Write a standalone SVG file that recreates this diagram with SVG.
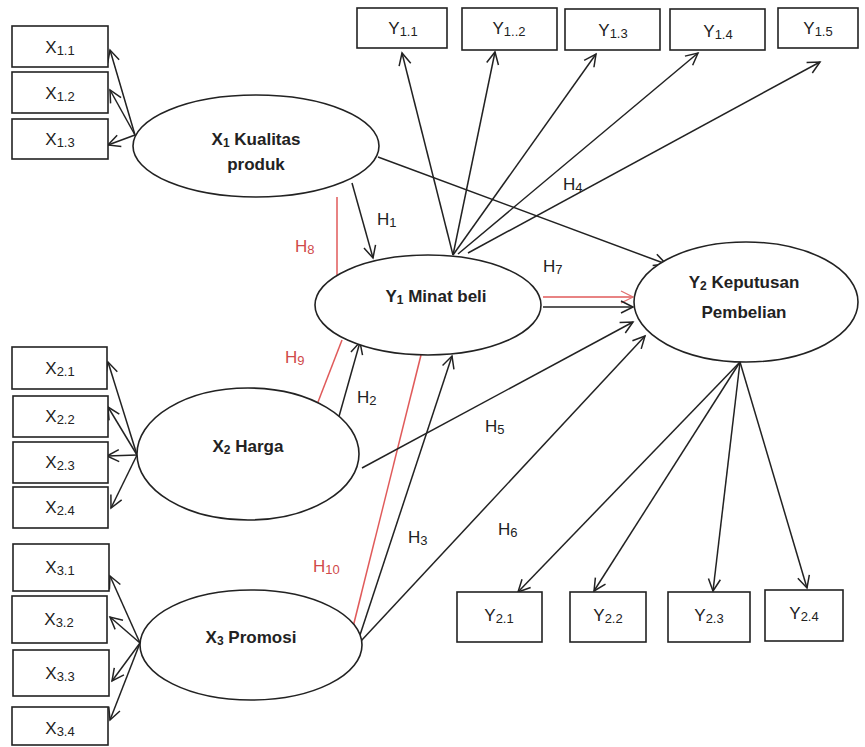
<svg xmlns="http://www.w3.org/2000/svg" width="865" height="747" viewBox="0 0 865 747">
<defs>
<marker id="ah" markerUnits="userSpaceOnUse" markerWidth="14" markerHeight="14" refX="12" refY="6" orient="auto" overflow="visible">
<path d="M0,0 L12,6 L0,12" fill="none" stroke="#222" stroke-width="1.5"/>
</marker>
<marker id="ahr" markerUnits="userSpaceOnUse" markerWidth="14" markerHeight="14" refX="12" refY="6" orient="auto" overflow="visible">
<path d="M0,0 L12,6 L0,12" fill="none" stroke="#e07070" stroke-width="1.3"/>
</marker>
<style>
.box{fill:#fff;stroke:#222;stroke-width:1.6}
.ell{fill:#fff;stroke:#222;stroke-width:1.6}
.bt{font-family:"Liberation Sans",Arial,sans-serif;font-size:17px;fill:#222;text-anchor:middle}
.et{font-family:"Liberation Sans",Arial,sans-serif;font-size:17px;font-weight:bold;fill:#222;text-anchor:middle}
.lb{font-family:"Liberation Sans",Arial,sans-serif;font-size:17px;fill:#222}
.lr{font-family:"Liberation Sans",Arial,sans-serif;font-size:17px;fill:#d04a4a}
.c line{stroke:#222;stroke-width:1.5;fill:none}
.c .a{marker-end:url(#ah)}
.c .r{stroke:#e05a5a;stroke-width:1.5}
.c .ra{stroke:#e05a5a;marker-end:url(#ahr)}
</style>
</defs>
<rect width="865" height="747" fill="#fff"/>

<g id="connectors" class="c">
<line class="a" x1="135" y1="135" x2="110" y2="50"/>
<line class="a" x1="135" y1="135" x2="110" y2="90"/>
<line class="a" x1="135" y1="135" x2="108" y2="145"/>
<line class="a" x1="137" y1="455" x2="108" y2="362"/>
<line class="a" x1="137" y1="455" x2="108" y2="407"/>
<line class="a" x1="137" y1="455" x2="107" y2="456"/>
<line class="a" x1="137" y1="455" x2="111" y2="508"/>
<line class="a" x1="140" y1="643" x2="110" y2="576"/>
<line class="a" x1="140" y1="643" x2="110" y2="617"/>
<line class="a" x1="140" y1="643" x2="112" y2="681"/>
<line class="a" x1="140" y1="643" x2="110" y2="720"/>
<line class="a" x1="453" y1="255" x2="402" y2="53"/>
<line class="a" x1="453" y1="255" x2="495" y2="52"/>
<line class="a" x1="453" y1="255" x2="596" y2="54"/>
<line class="a" x1="458" y1="254" x2="698" y2="53"/>
<line class="a" x1="468" y1="253" x2="820" y2="62"/>
<line class="a" x1="378" y1="157" x2="666" y2="264"/>
<line class="a" x1="352" y1="183" x2="373" y2="258"/>
<line class="r" x1="337" y1="197" x2="337" y2="275"/>
<line class="ra" x1="543" y1="297" x2="633" y2="297"/>
<line class="a" x1="543" y1="307" x2="633" y2="307"/>
<line class="r" x1="318" y1="402" x2="342" y2="340"/>
<line class="a" x1="338" y1="420" x2="360" y2="342"/>
<line class="r" x1="353" y1="627" x2="421" y2="355"/>
<line class="a" x1="360" y1="635" x2="452" y2="356"/>
<line class="a" x1="362" y1="468" x2="633" y2="322"/>
<line class="a" x1="361" y1="641" x2="645" y2="336"/>
<line class="a" x1="740" y1="362" x2="518" y2="592"/>
<line class="a" x1="740" y1="362" x2="594" y2="591"/>
<line class="a" x1="740" y1="362" x2="713" y2="591"/>
<line class="a" x1="740" y1="362" x2="807" y2="588"/>
</g>

<g id="labels">
<text class="lb" x="377" y="225">H<tspan font-size="13" dy="2">1</tspan></text>
<text class="lb" x="357" y="403">H<tspan font-size="13" dy="2">2</tspan></text>
<text class="lb" x="408" y="543">H<tspan font-size="13" dy="2">3</tspan></text>
<text class="lb" x="563" y="190">H<tspan font-size="13" dy="2">4</tspan></text>
<text class="lb" x="485" y="432">H<tspan font-size="13" dy="2">5</tspan></text>
<text class="lb" x="498" y="535">H<tspan font-size="13" dy="2">6</tspan></text>
<text class="lb" x="543" y="272">H<tspan font-size="13" dy="2">7</tspan></text>
<text class="lr" x="295" y="252">H<tspan font-size="13" dy="2">8</tspan></text>
<text class="lr" x="285" y="363">H<tspan font-size="13" dy="2">9</tspan></text>
<text class="lr" x="313" y="572">H<tspan font-size="13" dy="2">10</tspan></text>
</g>

<g id="X1">
<ellipse class="ell" cx="256" cy="146" rx="123" ry="51"/>
<text class="et" x="256" y="145">X<tspan font-size="12" dy="2">1</tspan><tspan dy="-2"> Kualitas</tspan></text>
<text class="et" x="256" y="170">produk</text>
</g>
<g id="Y1">
<ellipse class="ell" cx="428" cy="305" rx="113" ry="50"/>
<text class="et" x="436" y="302">Y<tspan font-size="12" dy="2">1</tspan><tspan dy="-2"> Minat beli</tspan></text>
</g>
<g id="Y2">
<ellipse class="ell" cx="746" cy="302" rx="112" ry="60"/>
<text class="et" x="744" y="288">Y<tspan font-size="12" dy="2">2</tspan><tspan dy="-2"> Keputusan</tspan></text>
<text class="et" x="744" y="318">Pembelian</text>
</g>
<g id="X2">
<ellipse class="ell" cx="248" cy="454" rx="111" ry="66"/>
<text class="et" x="248" y="452">X<tspan font-size="12" dy="2">2</tspan><tspan dy="-2"> Harga</tspan></text>
</g>
<g id="X3">
<ellipse class="ell" cx="251" cy="645" rx="111" ry="55"/>
<text class="et" x="251" y="643">X<tspan font-size="12" dy="2">3</tspan><tspan dy="-2"> Promosi</tspan></text>
</g>

<g id="X1.1"><rect class="box" x="12" y="26" width="96" height="41"/><text class="bt" x="60" y="53">X<tspan font-size="13" dy="2">1.1</tspan></text></g>
<g id="X1.2"><rect class="box" x="12" y="72" width="96" height="41"/><text class="bt" x="60" y="99">X<tspan font-size="13" dy="2">1.2</tspan></text></g>
<g id="X1.3"><rect class="box" x="12" y="119" width="96" height="40"/><text class="bt" x="60" y="145">X<tspan font-size="13" dy="2">1.3</tspan></text></g>

<g id="X2.1"><rect class="box" x="12" y="347" width="95" height="42"/><text class="bt" x="60" y="374">X<tspan font-size="13" dy="2">2.1</tspan></text></g>
<g id="X2.2"><rect class="box" x="13" y="396" width="95" height="41"/><text class="bt" x="60" y="422">X<tspan font-size="13" dy="2">2.2</tspan></text></g>
<g id="X2.3"><rect class="box" x="13" y="442" width="95" height="41"/><text class="bt" x="60" y="468">X<tspan font-size="13" dy="2">2.3</tspan></text></g>
<g id="X2.4"><rect class="box" x="13" y="487" width="95" height="41"/><text class="bt" x="60" y="513">X<tspan font-size="13" dy="2">2.4</tspan></text></g>

<g id="X3.1"><rect class="box" x="13" y="544" width="96" height="47"/><text class="bt" x="60" y="573">X<tspan font-size="13" dy="2">3.1</tspan></text></g>
<g id="X3.2"><rect class="box" x="12" y="596" width="95" height="47"/><text class="bt" x="59" y="625">X<tspan font-size="13" dy="2">3.2</tspan></text></g>
<g id="X3.3"><rect class="box" x="13" y="650" width="96" height="46"/><text class="bt" x="60" y="679">X<tspan font-size="13" dy="2">3.3</tspan></text></g>
<g id="X3.4"><rect class="box" x="12" y="707" width="96" height="38"/><text class="bt" x="60" y="734">X<tspan font-size="13" dy="2">3.4</tspan></text></g>

<g id="Y1.1"><rect class="box" x="357" y="8" width="90" height="40"/><text class="bt" x="403" y="34">Y<tspan font-size="13" dy="2">1.1</tspan></text></g>
<g id="Y1.2"><rect class="box" x="462" y="8" width="95" height="42"/><text class="bt" x="509" y="34">Y<tspan font-size="13" dy="2">1..2</tspan></text></g>
<g id="Y1.3"><rect class="box" x="565" y="9" width="95" height="41"/><text class="bt" x="613" y="36">Y<tspan font-size="13" dy="2">1.3</tspan></text></g>
<g id="Y1.4"><rect class="box" x="670" y="9" width="95" height="41"/><text class="bt" x="718" y="37">Y<tspan font-size="13" dy="2">1.4</tspan></text></g>
<g id="Y1.5"><rect class="box" x="778" y="8" width="80" height="40"/><text class="bt" x="818" y="34">Y<tspan font-size="13" dy="2">1.5</tspan></text></g>

<g id="Y2.1"><rect class="box" x="457" y="592" width="85" height="50"/><text class="bt" x="499" y="621">Y<tspan font-size="13" dy="2">2.1</tspan></text></g>
<g id="Y2.2"><rect class="box" x="570" y="592" width="76" height="50"/><text class="bt" x="608" y="621">Y<tspan font-size="13" dy="2">2.2</tspan></text></g>
<g id="Y2.3"><rect class="box" x="668" y="592" width="82" height="50"/><text class="bt" x="709" y="621">Y<tspan font-size="13" dy="2">2.3</tspan></text></g>
<g id="Y2.4"><rect class="box" x="765" y="590" width="78" height="51"/><text class="bt" x="804" y="619">Y<tspan font-size="13" dy="2">2.4</tspan></text></g>
</svg>
